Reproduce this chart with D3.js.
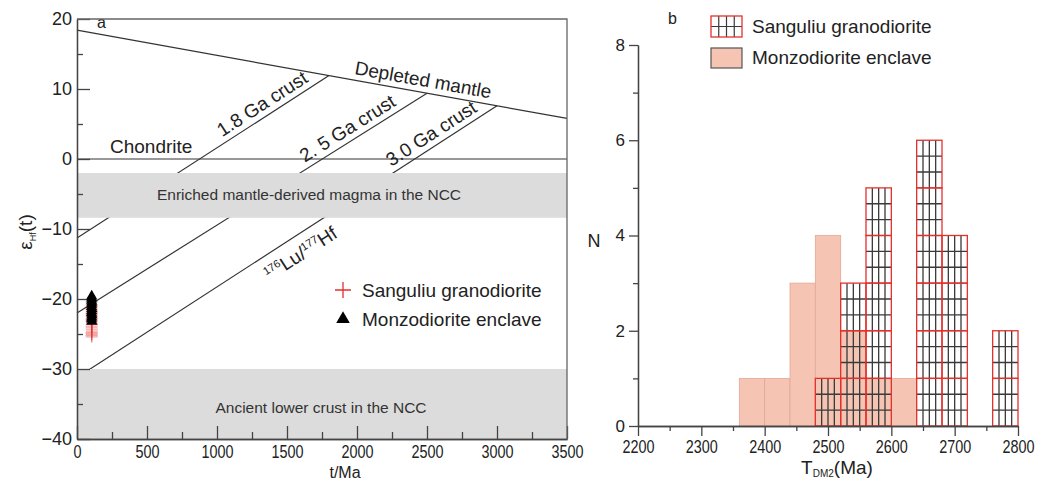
<!DOCTYPE html>
<html lang="en">
<head>
<meta charset="utf-8">
<title>Hf isotopes and TDM2 ages</title>
<style>
  body { margin: 0; background: #fff; }
  svg { display: block; font-family: "Liberation Sans", Arial, sans-serif; }
</style>
</head>
<body>
<div id="chart"></div>
<script src="https://d3js.org/d3.v7.min.js"></script>
<script>
// ---- panel a data ----
const tMajor = [0, 500, 1000, 1500, 2000, 2500, 3000, 3500];
const tMinor = [250, 750, 1250, 1750, 2250, 2750, 3250];
const epsMajor = [20, 10, 0, -10, -20, -30, -40];
const epsMinor = [15, 5, -5, -15, -25, -35];

const dmEnds = [18.4, 5.8];              // depleted mantle at 0 and 3500 Ma
const crustAges = [1800, 2500, 3000];
const crustStartEps = [-11.3, -22.0, -31.2];  // eHf(t) at t = 0
const crustLabels = ["1.8 Ga crust", "2. 5 Ga crust", "3.0 Ga crust"];
const crustLabelT = [1371, 1979, 2579];

const enrichedBand = [-2, -8.4];
const lowerCrustBand = [-30, -40];

const sanguliuT = [104, 105, 106, 104, 105, 106, 105, 104, 106, 105, 104, 105, 106, 105, 104, 105, 106, 105, 105, 105, 105];
const sanguliuEps = [-20.4, -20.8, -21.1, -21.4, -21.7, -21.9, -22.1, -22.3, -22.5, -22.8, -23.0, -23.2, -23.5, -23.7, -24.0, -24.3, -24.6, -24.8, -25.0, -25.2, -25.4];
const monzoT = [105, 105, 104, 106, 105, 104, 106, 105, 104, 106, 105, 104, 106];
const monzoEps = [-19.6, -19.9, -20.2, -20.5, -20.8, -21.1, -21.4, -21.7, -22.0, -22.3, -22.6, -22.9, -23.2];

// ---- panel b data ----
const ageMajor = [2200, 2300, 2400, 2500, 2600, 2700, 2800];
const ageMinor = [2250, 2350, 2450, 2550, 2650, 2750];
const nMajor = [0, 2, 4, 6, 8];
const nMinor = [1, 3, 5, 7];
const binStarts = [2360, 2400, 2440, 2480, 2520, 2560, 2600, 2640, 2680, 2720, 2760];
const binWidth = 40;
const monzoCounts = [1, 1, 3, 4, 2, 1, 1, 0, 0, 0, 0];
const sanguliuCounts = [0, 0, 0, 1, 3, 5, 0, 6, 4, 0, 2];

const red = "#e3312c";
const pink = "#f5c4b3";
const axisCol = "#444";

const svg = d3.select("#chart").append("svg")
    .attr("width", 1052)
    .attr("height", 481);

// =============== panel a ===============
const xL = d3.scaleLinear([0, 3500], [77, 567]);
const yL = d3.scaleLinear([-40, 20], [439, 19]);
const dm = d3.scaleLinear([0, 3500], dmEnds);
const line = d3.line().x(d => xL(d[0])).y(d => yL(d[1]));

const a = svg.append("g");

const lineCol = "#333";
a.append("path").attr("d", line([[0, dm(0)], [3500, dm(3500)]]))
    .attr("stroke", lineCol).attr("stroke-width", 1.2).attr("fill", "none");
a.append("path").attr("d", line([[0, 0], [3500, 0]]))
    .attr("stroke", lineCol).attr("stroke-width", 1.2).attr("fill", "none");

crustAges.forEach((age, i) => {
    a.append("path").attr("d", line([[0, crustStartEps[i]], [age, dm(age)]]))
        .attr("stroke", lineCol).attr("stroke-width", 1.2).attr("fill", "none");
});

// grey bands on top of the evolution lines
[enrichedBand, lowerCrustBand].forEach(b => {
    a.append("rect")
        .attr("x", xL(0)).attr("width", xL(3500) - xL(0))
        .attr("y", yL(b[0])).attr("height", yL(b[1]) - yL(b[0]))
        .attr("fill", "#dcdcdc");
});

a.append("text").attr("x", 309).attr("y", yL(-5.2) + 5)
    .attr("text-anchor", "middle").attr("font-size", 15.5).attr("fill", "#333")
    .text("Enriched mantle-derived magma in the NCC");
a.append("text").attr("x", 321).attr("y", yL(-35.5) + 5)
    .attr("text-anchor", "middle").attr("font-size", 15.5).attr("fill", "#333")
    .text("Ancient lower crust in the NCC");

// rotated labels along lines
function angleOf(p1, p2) {
    return Math.atan2(yL(p2[1]) - yL(p1[1]), xL(p2[0]) - xL(p1[0])) * 180 / Math.PI;
}
function alongLabel(t, e, ang, off) {
    return a.append("g")
        .attr("transform", `translate(${xL(t)},${yL(e)}) rotate(${ang})`)
        .append("text").attr("y", off).attr("text-anchor", "middle")
        .attr("font-size", 19).attr("fill", "#222");
}

const dmAng = angleOf([0, dm(0)], [3500, dm(3500)]);
alongLabel(2457, dm(2457), dmAng, -6).text("Depleted mantle");

crustAges.forEach((age, i) => {
    const slope = (dm(age) - crustStartEps[i]) / age;
    const ang = angleOf([0, crustStartEps[i]], [age, dm(age)]);
    const t = crustLabelT[i];
    alongLabel(t, crustStartEps[i] + slope * t, ang, -6).text(crustLabels[i]);
});

{
    const i = 2, t = 1530;
    const slope = (dm(crustAges[i]) - crustStartEps[i]) / crustAges[i];
    const ang = angleOf([0, crustStartEps[i]], [crustAges[i], dm(crustAges[i])]);
    const lab = alongLabel(t, crustStartEps[i] + slope * t, ang, 24);
    lab.append("tspan").attr("font-size", 11).attr("dy", -7).text("176");
    lab.append("tspan").attr("dy", 7).text("Lu/");
    lab.append("tspan").attr("font-size", 11).attr("dy", -7).text("177");
    lab.append("tspan").attr("dy", 7).text("Hf");
}

a.append("text").attr("x", 110).attr("y", 153).attr("font-size", 19).attr("fill", "#222")
    .text("Chondrite");
a.append("text").attr("x", 97).attr("y", 28).attr("font-size", 16).attr("fill", "#222")
    .text("a");

// axes
function styleAxis(g) {
    g.select(".domain").attr("stroke", axisCol).attr("stroke-width", 1.3);
    g.selectAll(".tick line").attr("stroke", axisCol).attr("stroke-width", 1.3);
    g.selectAll(".tick text").attr("fill", "#222");
}
const fmt = d3.format("d");

a.append("g").attr("transform", `translate(0,${yL(-40)})`)
    .call(d3.axisBottom(xL).tickValues(tMinor).tickSize(-7).tickSizeOuter(0).tickFormat(""))
    .call(styleAxis);
a.append("g").attr("transform", `translate(0,${yL(-40)})`)
    .call(d3.axisBottom(xL).tickValues(tMajor).tickSize(-13).tickSizeOuter(0).tickPadding(6).tickFormat(fmt))
    .call(styleAxis)
    .call(g => g.selectAll(".tick text").attr("font-size", 18).attr("font-family", "Liberation Sans")
        .attr("textLength", d => String(d).length * 8).attr("lengthAdjust", "spacingAndGlyphs"));

a.append("g").attr("transform", `translate(${xL(0)},0)`)
    .call(d3.axisLeft(yL).tickValues(epsMinor).tickSize(-6).tickSizeOuter(0).tickFormat(""))
    .call(styleAxis);
a.append("g").attr("transform", `translate(${xL(0)},0)`)
    .call(d3.axisLeft(yL).tickValues(epsMajor).tickSize(-13).tickSizeOuter(0).tickPadding(5))
    .call(styleAxis)
    .call(g => g.selectAll(".tick text").attr("font-size", 18).attr("font-family", "Liberation Sans"));

// frame top and right
a.append("path")
    .attr("d", `M${xL(0)},${yL(20)}H${xL(3500)}V${yL(-40)}`)
    .attr("fill", "none").attr("stroke", "#666").attr("stroke-width", 1.3);

a.append("text").attr("x", 345).attr("y", 477.5).attr("text-anchor", "middle")
    .attr("font-size", 16).attr("fill", "#222").text("t/Ma");

const yLab = a.append("text").attr("transform", "translate(32,232) rotate(-90)")
    .attr("text-anchor", "middle").attr("font-size", 19).attr("fill", "#222");
yLab.append("tspan").text("ε");
yLab.append("tspan").attr("font-size", 9).attr("dy", 4).text("Hf");
yLab.append("tspan").attr("dy", -4).text("(t)");

// data points
const plus = (x, y, s) => `M${x - s},${y}H${x + s}M${x},${y - s}V${y + s}`;
a.append("g").selectAll("path").data(d3.range(sanguliuEps.length)).join("path")
    .attr("d", i => plus(xL(sanguliuT[i]), yL(sanguliuEps[i]), 6))
    .attr("stroke", red).attr("stroke-width", 1.3).attr("stroke-opacity", 0.45);
a.append("g").selectAll("path").data(d3.range(monzoEps.length)).join("path")
    .attr("transform", i => `translate(${xL(monzoT[i])},${yL(monzoEps[i])})`)
    .attr("d", d3.symbol(d3.symbolTriangle, 55))
    .attr("fill", "#000");

// legend a
a.append("path").attr("d", plus(343, 290, 8)).attr("stroke", red).attr("stroke-width", 1.3);
a.append("text").attr("x", 362).attr("y", 297).attr("font-size", 19).attr("fill", "#222")
    .text("Sanguliu granodiorite");
a.append("path").attr("transform", "translate(343,319)")
    .attr("d", d3.symbol(d3.symbolTriangle, 80)).attr("fill", "#000");
a.append("text").attr("x", 362).attr("y", 326).attr("font-size", 19).attr("fill", "#222")
    .text("Monzodiorite enclave");

// =============== panel b ===============
const xR = d3.scaleLinear([2200, 2800], [638, 1018]);
const yR = d3.scaleLinear([0, 8], [426, 45]);
const b = svg.append("g");

// monzodiorite bars
b.append("g").selectAll("rect").data(binStarts.filter((d, i) => monzoCounts[i] > 0)).join("rect")
    .attr("x", d => xR(d))
    .attr("width", xR(binWidth + 2200) - xR(2200))
    .attr("y", d => yR(monzoCounts[binStarts.indexOf(d)]))
    .attr("height", d => yR(0) - yR(monzoCounts[binStarts.indexOf(d)]))
    .attr("fill", pink).attr("stroke", "#e2a897").attr("stroke-width", 0.8);

// sanguliu gridded bars, one box per count
const cells = [];
binStarts.forEach((s, i) => {
    for (let k = 0; k < sanguliuCounts[i]; k++) cells.push({ s, k });
});
const cellW = xR(2200 + binWidth) - xR(2200);
const cellG = b.append("g").selectAll("g").data(cells).join("g")
    .attr("transform", d => `translate(${xR(d.s)},${yR(d.k + 1)})`);
const cellH = yR(0) - yR(1);
cellG.append("path")
    .attr("d", `M${cellW / 4},0V${cellH}M${cellW / 2},0V${cellH}M${cellW * 3 / 4},0V${cellH}` +
        `M0,${cellH / 3}H${cellW}M0,${cellH * 2 / 3}H${cellW}`)
    .attr("stroke", "#3a3a3a").attr("stroke-width", 1.3).attr("fill", "none");
cellG.append("rect").attr("width", cellW).attr("height", cellH)
    .attr("fill", "none").attr("stroke", red).attr("stroke-width", 1.3);

// axes
b.append("g").attr("transform", `translate(0,${yR(0)})`)
    .call(d3.axisBottom(xR).tickValues(ageMinor).tickSize(5).tickSizeOuter(0).tickFormat(""))
    .call(styleAxis);
b.append("g").attr("transform", `translate(0,${yR(0)})`)
    .call(d3.axisBottom(xR).tickValues(ageMajor).tickSize(10).tickSizeOuter(0).tickPadding(4).tickFormat(fmt))
    .call(styleAxis)
    .call(g => g.selectAll(".tick text").attr("font-size", 19).attr("font-family", "Liberation Sans")
        .attr("textLength", d => String(d).length * 8).attr("lengthAdjust", "spacingAndGlyphs"));
b.append("g").attr("transform", `translate(${xR(2200)},0)`)
    .call(d3.axisLeft(yR).tickValues(nMinor).tickSize(5).tickSizeOuter(0).tickFormat(""))
    .call(styleAxis);
b.append("g").attr("transform", `translate(${xR(2200)},0)`)
    .call(d3.axisLeft(yR).tickValues(nMajor).tickSize(9).tickSizeOuter(0).tickPadding(4))
    .call(styleAxis)
    .call(g => g.selectAll(".tick text").attr("font-size", 17).attr("font-family", "Liberation Sans"));

b.append("text").attr("x", 594).attr("y", 247).attr("text-anchor", "middle")
    .attr("font-size", 18).attr("fill", "#222").text("N");
const xLab = b.append("text").attr("x", 837).attr("y", 474).attr("text-anchor", "middle")
    .attr("font-size", 19).attr("fill", "#222");
xLab.append("tspan").text("T");
xLab.append("tspan").attr("font-size", 10).attr("dy", 3).text("DM2");
xLab.append("tspan").attr("dy", -3).text("(Ma)");

b.append("text").attr("x", 668).attr("y", 24).attr("font-size", 16).attr("fill", "#222").text("b");

// legend b
const lg = b.append("g").attr("transform", "translate(711,16)");
lg.append("path")
    .attr("d", "M7.75,0V21M15.5,0V21M23.25,0V21M0,10.5H31")
    .attr("stroke", "#3a3a3a").attr("stroke-width", 1.2);
lg.append("rect").attr("width", 31).attr("height", 21)
    .attr("fill", "none").attr("stroke", red).attr("stroke-width", 1.3);
lg.append("rect").attr("y", 32).attr("width", 31).attr("height", 20)
    .attr("fill", pink).attr("stroke", "#555").attr("stroke-width", 1.2);
lg.append("text").attr("x", 41).attr("y", 17).attr("font-size", 19).attr("fill", "#222")
    .text("Sanguliu granodiorite");
lg.append("text").attr("x", 41).attr("y", 48).attr("font-size", 19).attr("fill", "#222")
    .text("Monzodiorite enclave");
</script>
</body>
</html>
